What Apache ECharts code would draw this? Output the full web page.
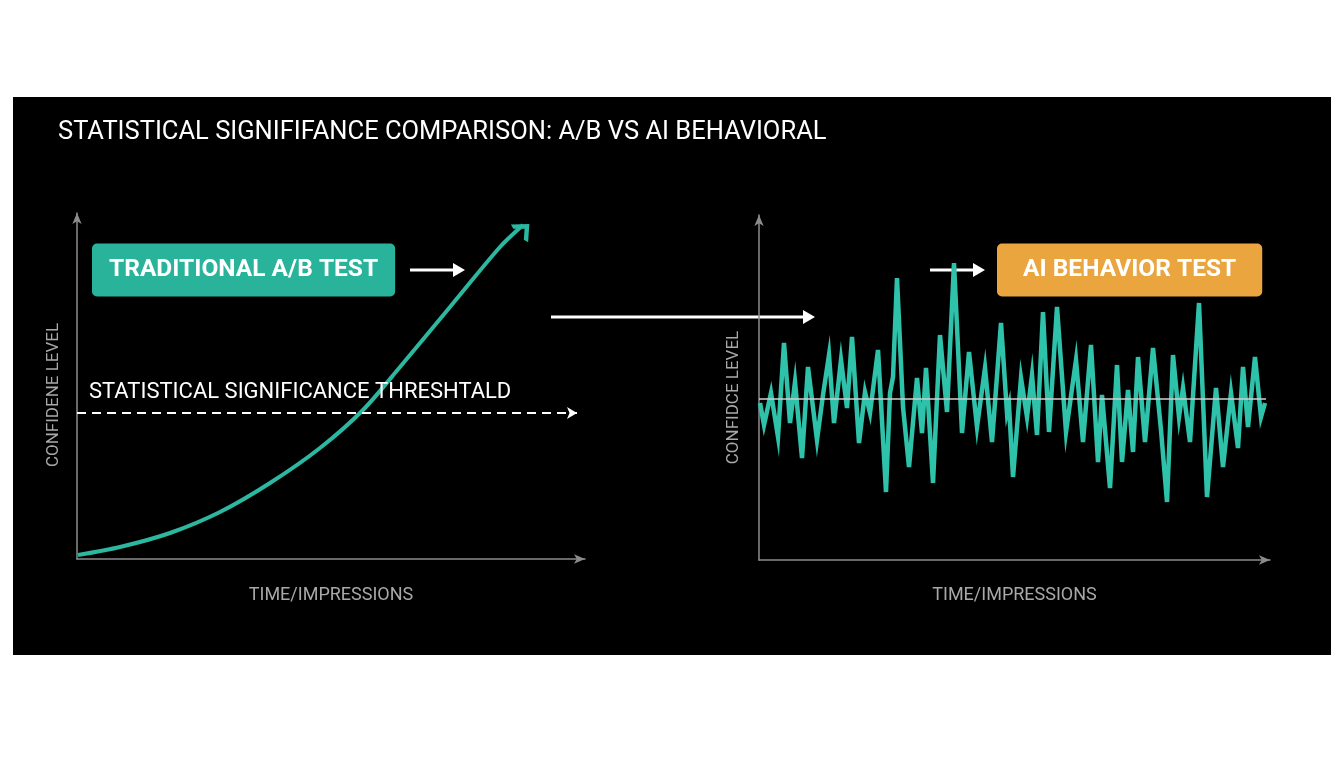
<!DOCTYPE html>
<html>
<head>
<meta charset="utf-8">
<script src="https://cdn.jsdelivr.net/npm/echarts@6/dist/echarts.min.js"></script>
<style>
  html, body { margin: 0; padding: 0; background: #ffffff; width: 1344px; height: 768px; overflow: hidden; }
  #chart { position: absolute; left: 13px; top: 97px; width: 1318px; height: 558px; }
</style>
</head>
<body>
<div id="chart"></div>
<script>
// ---- Data ----
const chartTitle = 'STATISTICAL SIGNIFIFANCE COMPARISON: A/B VS AI BEHAVIORAL';
const leftBoxLabel = 'TRADITIONAL A/B TEST';
const rightBoxLabel = 'AI BEHAVIOR TEST';
const thresholdLabel = 'STATISTICAL SIGNIFICANCE THRESHTALD';
const xAxisName = 'TIME/IMPRESSIONS';
const leftYAxisName = 'CONFIDENE LEVEL';
const rightYAxisName = 'CONFIDCE LEVEL';

// Traditional A/B test: smooth rising confidence curve
const abTime = [1, 43, 93, 143, 193, 243, 286, 323, 373, 423, 446];
const abConfidence = [4, 12, 26, 47, 76, 111, 149, 192, 252, 312, 334];
const thresholdLevel = 146;

// AI behavior test: fluctuating confidence
const aiTime = [1,5,12,19,25,31,36,43,49,58,64,70,75,82,88,93,100,106,111,119,127,131,134,138,144,150,158,163,167,174,181,188,195,203,210,218,226,233,242,248,250,254,262,268,273,278,284,290,298,307,317,324,332,339,343,351,358,363,369,374,379,386,394,402,408,414,420,424,431,440,448,457,464,472,479,484,489,496,502,506];
const aiConfidence = [157,135,167,123,217,137,178,102,193,120,165,205,137,200,152,223,117,168,147,210,68,167,183,282,153,93,182,127,192,77,225,148,297,127,208,133,192,118,237,147,155,83,182,143,185,125,248,128,253,128,200,118,215,98,165,72,195,98,170,108,203,118,212,130,58,205,143,172,118,257,63,172,93,167,112,193,133,203,143,157];
const aiBaseline = 161;

// ---- Build chart ----
const teal = '#2bb7a0';
const axisGray = '#8c8c8c';
const nameGray = '#a8a8a8';

const abData = abTime.map((t, i) => {
  if (i === abTime.length - 1) {
    return {
      value: [t, abConfidence[i]],
      symbol: 'path://M0,10 L10,0 L20,10',
      symbolSize: [20, 11],
      symbolOffset: [0, 5],
      symbolRotate: -46,
      itemStyle: { color: 'rgba(0,0,0,0)', borderColor: teal, borderWidth: 4 }
    };
  }
  return [t, abConfidence[i]];
});
const aiData = aiTime.map((t, i) => [t, aiConfidence[i]]);

function axisCommon(extra) {
  return Object.assign({
    type: 'value',
    axisLine: { show: true, symbol: ['none', 'arrow'], symbolSize: [7, 11], lineStyle: { color: axisGray, width: 1.5 } },
    axisTick: { show: false },
    axisLabel: { show: false },
    splitLine: { show: false },
    nameLocation: 'middle',
    nameTextStyle: { color: nameGray, fontSize: 18, fontFamily: 'Roboto' }
  }, extra);
}

function arrow(x1, x2, y) {
  return [
    { type: 'line', shape: { x1: x1, y1: y, x2: x2 - 8, y2: y }, style: { stroke: '#ffffff', lineWidth: 3 } },
    { type: 'polygon', shape: { points: [[x2 - 12, y - 7], [x2, y], [x2 - 12, y + 7]] }, style: { fill: '#ffffff' } }
  ];
}

const chart = echarts.init(document.getElementById('chart'), null, { renderer: 'canvas' });
chart.setOption({
  backgroundColor: '#000000',
  animation: false,
  title: [
    { text: chartTitle, left: 40, top: 18, textStyle: { color: '#ffffff', fontSize: 25.5, fontWeight: 'normal', fontFamily: 'Roboto' } },
    { text: leftBoxLabel, left: 79, top: 147, padding: [14, 17], backgroundColor: '#29b39b', borderRadius: 5,
      textStyle: { color: '#ffffff', fontSize: 24.5, fontWeight: 'bold', fontFamily: 'Roboto', lineHeight: 24 } },
    { text: rightBoxLabel, left: 984, top: 147, padding: [14, 26], backgroundColor: '#eaa53e', borderRadius: 5,
      textStyle: { color: '#ffffff', fontSize: 24.5, fontWeight: 'bold', fontFamily: 'Roboto', lineHeight: 24 } },
    { text: thresholdLabel, left: 71, top: 279, textStyle: { color: '#ffffff', fontSize: 22, fontWeight: 'normal', fontFamily: 'Roboto' } }
  ],
  grid: [
    { left: 64, top: 116, width: 508, height: 346 },
    { left: 746, top: 118, width: 511, height: 345 }
  ],
  xAxis: [
    axisCommon({ gridIndex: 0, min: 0, max: 508, name: xAxisName, nameGap: 27 }),
    axisCommon({ gridIndex: 1, min: 0, max: 511, name: xAxisName, nameGap: 26 })
  ],
  yAxis: [
    axisCommon({ gridIndex: 0, min: 0, max: 346, name: leftYAxisName, nameGap: 15,
      nameTextStyle: { color: nameGray, fontSize: 17, fontFamily: 'Roboto', padding: [0, 18, 0, 0] } }),
    axisCommon({ gridIndex: 1, min: 0, max: 345, name: rightYAxisName, nameGap: 17,
      nameTextStyle: { color: nameGray, fontSize: 17, fontFamily: 'Roboto', padding: [0, 20, 0, 0] } })
  ],
  series: [
    {
      name: 'Traditional A/B',
      type: 'line',
      xAxisIndex: 0, yAxisIndex: 0,
      data: abData,
      smooth: 0.3,
      symbol: 'none',
      showSymbol: true,
      lineStyle: { color: teal, width: 4 },
      markLine: {
        silent: true,
        symbol: ['none', 'arrow'],
        symbolSize: [9, 10],
        label: { show: false },
        lineStyle: { color: '#ffffff', type: [9, 6], width: 2 },
        data: [[{ coord: [0, thresholdLevel] }, { coord: [500, thresholdLevel] }]]
      },
      z: 3
    },
    {
      name: 'AI Behavior',
      type: 'line',
      xAxisIndex: 1, yAxisIndex: 1,
      data: aiData,
      symbol: 'none',
      lineStyle: { color: '#2fc2aa', width: 4.5, join: 'miter' },
      markLine: {
        silent: true,
        symbol: ['none', 'none'],
        label: { show: false },
        lineStyle: { color: '#cfcfcf', type: 'solid', width: 1.5 },
        data: [[{ coord: [0, aiBaseline] }, { coord: [507, aiBaseline] }]]
      },
      z: 3
    }
  ],
  graphic: [].concat(arrow(397, 452, 173), arrow(917, 972, 173), arrow(538, 802, 220))
});
</script>
</body>
</html>
